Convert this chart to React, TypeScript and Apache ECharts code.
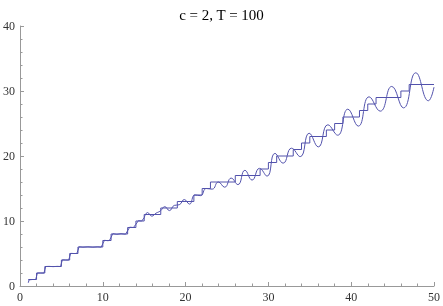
import React, { useEffect, useRef } from "react";
import * as echarts from "echarts";

// Staircase: count of squarefree integers <= x (step positions and levels)
const stairX = [1, 2, 3, 5, 6, 7, 10, 11, 13, 14, 15, 17, 19, 21, 22, 23, 26, 29, 30, 31, 33, 34, 35, 37, 38, 39, 41, 42, 43, 46, 47, 50];
const stairY = [1, 2, 3, 4, 5, 6, 7, 8, 9, 10, 11, 12, 13, 14, 15, 16, 17, 18, 19, 20, 21, 22, 23, 24, 25, 26, 27, 28, 29, 30, 31, 31];

// Approximating curve, low-x part hugging the steps
const waveLowX = [1.0, 1.1, 1.5, 1.9, 2.0, 2.1, 2.5, 2.9, 3.0, 3.1, 3.5, 4.0, 4.5, 4.9, 5.0, 5.12, 5.5, 5.88, 6.0, 6.12, 6.5, 6.86, 7.0, 7.14, 7.6, 8.2, 8.8, 9.4, 9.8, 10.0, 10.2, 10.6, 10.8, 11.0, 11.2, 11.7, 12.2, 12.75, 13.0, 13.25, 13.7, 14.0, 14.3, 14.7, 15.0];
const waveLowY = [0.5, 0.95, 1.0, 1.0, 1.5, 2.0, 2.0, 2.0, 2.5, 3.0, 3.02, 2.98, 3.02, 3.0, 3.5, 4.02, 4.0, 4.0, 4.5, 5.02, 5.0, 5.0, 5.5, 6.03, 5.97, 6.03, 5.97, 6.03, 5.98, 6.5, 7.03, 6.97, 7.0, 7.5, 8.05, 7.95, 8.05, 7.97, 8.5, 9.05, 9.0, 9.5, 10.05, 10.0, 10.5];

// Oscillating part (peaks and troughs)
const waveHighX = [15.0, 15.4, 15.92, 16.43, 16.95, 17.49, 18.05, 18.63, 19.23, 19.84, 20.47, 21.12, 21.8, 22.49, 23.21, 23.95, 24.72, 25.5, 26.32, 27.16, 28.03, 28.92, 29.84, 30.79, 31.78, 32.79, 33.84, 34.92, 36.03, 37.18, 38.37, 39.59, 40.86, 42.16, 43.51, 44.89, 46.32, 47.8, 49.32, 50.0];
const waveHighY = [10.5, 11.3, 10.75, 11.2, 11.55, 12.2, 11.6, 12.4, 12.5, 13.3, 12.6, 14.0, 13.9, 15.0, 14.9, 16.0, 15.2, 16.6, 15.6, 17.8, 16.3, 18.1, 16.9, 20.4, 18.9, 21.2, 19.9, 23.5, 21.4, 24.8, 23.2, 27.2, 24.6, 29.1, 26.9, 30.7, 27.4, 32.8, 28.5, 30.6];

const titleText = "c = 2, T = 100";
const xMin = 0, xMax = 50, xStep = 10;
const yMin = 0, yMax = 40, yStep = 10;

const lineColor = "#5252ac";
const axisColor = "#999999";

const zip = (xs: number[], ys: number[]) => xs.map((x, i) => [x, ys[i]]);

export default function App() {
  const ref = useRef<HTMLDivElement>(null);
  useEffect(() => {
    if (!ref.current) return;
    const chart = echarts.init(ref.current, undefined, { renderer: "svg" });
    const axisCommon = {
      type: "value" as const,
      splitLine: { show: false },
      axisLine: { show: true, onZero: false, lineStyle: { color: axisColor, width: 1 } },
      axisTick: { show: true, inside: true, length: 4, lineStyle: { color: axisColor } },
      minorTick: { show: true, splitNumber: 5, length: 2.5, lineStyle: { color: axisColor } },
      axisLabel: { color: "#333", fontFamily: "Liberation Serif", fontSize: 12, margin: 5 },
    };
    chart.setOption({
      animation: false,
      title: {
        text: titleText,
        left: "center",
        top: 2,
        textStyle: { fontFamily: "Liberation Serif", fontSize: 15, fontWeight: "normal", color: "#000" },
      },
      grid: { left: 18, right: 8, top: 26, bottom: 20 },
      xAxis: { ...axisCommon, min: xMin, max: xMax, interval: xStep },
      yAxis: { ...axisCommon, min: yMin, max: yMax, interval: yStep },
      series: [
        {
          type: "line",
          data: zip(stairX, stairY),
          step: "end",
          showSymbol: false,
          lineStyle: { color: lineColor, width: 1 },
        },
        {
          type: "line",
          data: zip(waveLowX, waveLowY),
          showSymbol: false,
          lineStyle: { color: lineColor, width: 1 },
        },
        {
          type: "line",
          data: zip(waveHighX, waveHighY),
          smooth: 0.5,
          showSymbol: false,
          lineStyle: { color: lineColor, width: 1 },
        },
      ],
    });
    return () => chart.dispose();
  }, []);
  return <div ref={ref} style={{ position: "fixed", left: 0, top: 0, width: 443, height: 306 }} />;
}
